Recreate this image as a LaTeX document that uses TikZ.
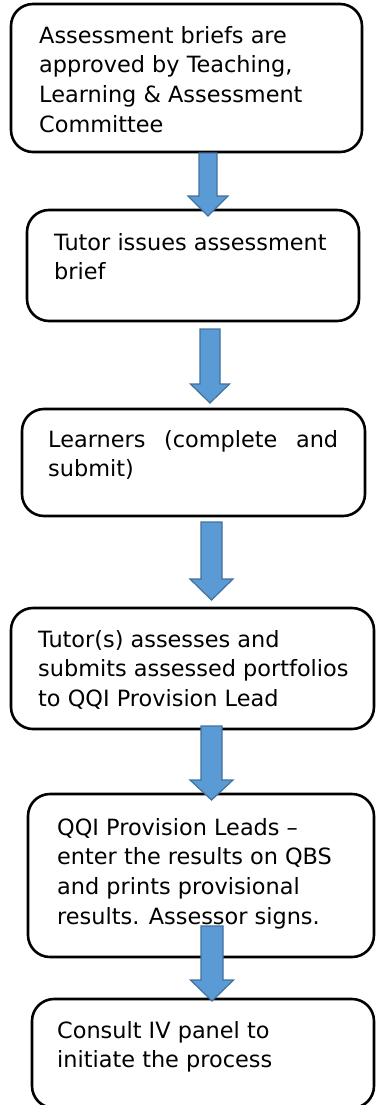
\documentclass[tikz,border=0pt]{standalone}
\usepackage{fontspec}
\setmainfont{DejaVu Sans}
\usetikzlibrary{calc}
\definecolor{arrowfill}{HTML}{5B9BD5}
\definecolor{arrowedge}{HTML}{41719C}
% tall invisible rule: fixes the height of the first text line
\newcommand{\firstline}{\rule{0pt}{18pt}}
% block arrow: centre x, shaft half-width, head half-width, top, head start, tip
\newcommand{\flowarrow}[6]{%
  \fill[arrowfill, draw=arrowedge, line width=1.2pt, line join=miter]
    (#1-#2,#4) -- (#1+#2,#4) -- (#1+#2,#5) -- (#1+#3,#5) -- (#1,#6)
    -- (#1-#3,#5) -- (#1-#2,#5) -- cycle;}
\begin{document}
\begin{tikzpicture}[x=1pt, y=-1pt,
  stepbox/.style={draw=black, line width=2.6pt, rounded corners=22pt},
  steptext/.style={anchor=north west, inner sep=0pt, align=left,
    font=\fontsize{22.4pt}{29.7pt}\selectfont}]
  \useasboundingbox (0,0) rectangle (376,1105);
  \clip (0,0) rectangle (376,1105);

  % rounded step boxes
  \draw[stepbox] (11,4) rectangle (362,152) coordinate (b1se);
  \draw[stepbox] (27,210) rectangle (359,321);
  \draw[stepbox] (22,409) rectangle (365,516);
  \draw[stepbox] (11,608) rectangle (374,729);
  \draw[stepbox] (28,794) rectangle (374,957);
  \draw[stepbox] (32,999) rectangle (374,1108);

  % step texts (first baseline = top + 18pt)
  \node[steptext] (t1) at (39,43-18) {\firstline Assessment briefs are\\approved by Teaching,\\Learning \& Assessment\\Committee};
  \node[steptext] (t2) at (54,250-18) {\firstline Tutor issues assessment\\brief};
  \node[steptext] (t3) at (48,447-18) {\firstline\hbox to 290pt{Learners\hfil(complete\hfil and}\\submit)};
  \node[steptext] (t4) at (38,647-18) {\firstline Tutor(s) assesses and\\submits assessed portfolios\\to QQI Provision Lead};
  \node[steptext] (t5) at (57,835-18) {\firstline QQI Provision Leads –\\enter the results on QBS\\and prints provisional\\results. Assessor signs.};
  \node[steptext] (t6) at (57,1038-18) {\firstline Consult IV panel to\\initiate the process};

  % block arrows between steps
  \flowarrow{208}{9}{20}{153}{196}{216}
  \flowarrow{210}{10}{19.5}{329}{384}{403}
  \flowarrow{211.5}{10.5}{21.5}{522}{579}{600}
  \flowarrow{211.5}{10.5}{21.5}{726}{780}{800}
  \flowarrow{212}{11}{21.5}{926}{980}{1001}
\end{tikzpicture}
\end{document}
